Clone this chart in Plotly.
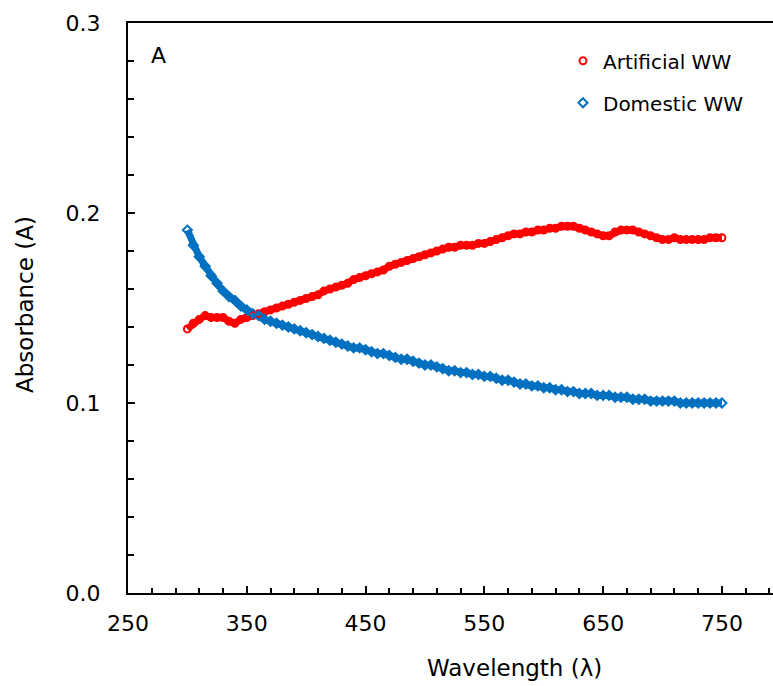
import plotly.graph_objects as go

wavelength = [300, 305, 310, 315, 320, 325, 330, 335, 340, 345,
              350, 355, 360, 365, 370, 375, 380, 385, 390, 395,
              400, 405, 410, 415, 420, 425, 430, 435, 440, 445,
              450, 455, 460, 465, 470, 475, 480, 485, 490, 495,
              500, 505, 510, 515, 520, 525, 530, 535, 540, 545,
              550, 555, 560, 565, 570, 575, 580, 585, 590, 595,
              600, 605, 610, 615, 620, 625, 630, 635, 640, 645,
              650, 655, 660, 665, 670, 675, 680, 685, 690, 695,
              700, 705, 710, 715, 720, 725, 730, 735, 740, 745, 750]

artificial_ww = [0.139, 0.142, 0.144, 0.146, 0.145, 0.145, 0.145, 0.143, 0.142, 0.144,
                 0.145, 0.146, 0.147, 0.148, 0.149, 0.150, 0.151, 0.152, 0.153, 0.154,
                 0.155, 0.156, 0.157, 0.159, 0.160, 0.161, 0.162, 0.163, 0.165, 0.166,
                 0.167, 0.168, 0.169, 0.170, 0.172, 0.173, 0.174, 0.175, 0.176, 0.177,
                 0.178, 0.179, 0.180, 0.181, 0.182, 0.182, 0.183, 0.183, 0.183, 0.184,
                 0.184, 0.185, 0.186, 0.187, 0.188, 0.189, 0.189, 0.190, 0.190, 0.191,
                 0.191, 0.192, 0.192, 0.193, 0.193, 0.193, 0.192, 0.191, 0.190, 0.189,
                 0.188, 0.188, 0.190, 0.191, 0.191, 0.191, 0.190, 0.189, 0.188, 0.187,
                 0.186, 0.186, 0.187, 0.186, 0.186, 0.186, 0.186, 0.186, 0.187, 0.187, 0.187]

domestic_ww = [0.191, 0.183, 0.177, 0.172, 0.167, 0.163, 0.159, 0.156, 0.154, 0.151,
               0.149, 0.147, 0.146, 0.144, 0.143, 0.142, 0.141, 0.140, 0.139, 0.138,
               0.137, 0.136, 0.135, 0.134, 0.133, 0.132, 0.131, 0.130, 0.129, 0.129,
               0.128, 0.127, 0.126, 0.126, 0.125, 0.124, 0.123, 0.123, 0.122, 0.121,
               0.120, 0.120, 0.119, 0.118, 0.117, 0.117, 0.116, 0.116, 0.115, 0.115,
               0.114, 0.114, 0.113, 0.112, 0.112, 0.111, 0.110, 0.110, 0.109, 0.109,
               0.108, 0.108, 0.107, 0.107, 0.106, 0.106, 0.105, 0.105, 0.105, 0.104,
               0.104, 0.104, 0.103, 0.103, 0.103, 0.102, 0.102, 0.102, 0.101, 0.101,
               0.101, 0.101, 0.101, 0.100, 0.100, 0.100, 0.100, 0.100, 0.100, 0.100, 0.100]

FONT = "DejaVu Sans, Liberation Sans, Arial, sans-serif"
RED = "#FF0000"
BLUE = "#0070C0"

fig = go.Figure()
# dense band of overlapping markers (line underlay reproduces the packed-marker look)
fig.add_trace(go.Scatter(x=wavelength, y=artificial_ww, mode="lines", showlegend=False,
                         hoverinfo="skip", line=dict(color=RED, width=7)))
fig.add_trace(go.Scatter(x=wavelength, y=domestic_ww, mode="lines", showlegend=False,
                         hoverinfo="skip", line=dict(color=BLUE, width=7)))
fig.add_trace(go.Scatter(
    x=wavelength, y=artificial_ww, mode="markers", name="Artificial WW",
    legendgroup="a",
    marker=dict(symbol="circle-open", size=7, color=RED, line=dict(width=2, color=RED)),
))
fig.add_trace(go.Scatter(
    x=wavelength, y=domestic_ww, mode="markers", name="Domestic WW",
    legendgroup="b",
    marker=dict(symbol="diamond-open", size=7, color=BLUE, line=dict(width=2, color=BLUE)),
))

fig.update_layout(
    width=773, height=686,
    margin=dict(l=128, r=0, t=23, b=93),
    plot_bgcolor="white", paper_bgcolor="white",
    font=dict(family=FONT, size=22, color="#000000"),
    showlegend=True,
    legend=dict(x=0.6744, y=0.968, xanchor="left", yanchor="top",
                bgcolor="rgba(0,0,0,0)", font=dict(size=20, family=FONT, color="#000000"),
                tracegroupgap=13, itemwidth=30),
    xaxis=dict(range=[250, 793], tick0=250, dtick=100, ticks="inside", ticklen=7,
               tickwidth=2, tickcolor="black", showline=True, linecolor="black",
               linewidth=2, mirror=True, showgrid=False, zeroline=False,
               ticklabelstandoff=10,
               tickfont=dict(size=22, family=FONT),
               minor=dict(dtick=20, tick0=250, ticks="inside", ticklen=5, tickwidth=2,
                          tickcolor="black", showgrid=False)),
    yaxis=dict(range=[0, 0.3], tick0=0, dtick=0.1, tickformat=".1f", ticks="inside",
               ticklen=7, tickwidth=2, tickcolor="black", showline=True,
               linecolor="black", linewidth=2, showgrid=False, zeroline=False,
               ticklabelstandoff=21,
               tickfont=dict(size=22, family=FONT),
               minor=dict(dtick=0.02, ticks="inside", ticklen=6, tickwidth=2,
                          tickcolor="black", showgrid=False)),
    annotations=[
        dict(text="A", x=158, y=56, xref="paper", yref="paper", showarrow=False,
             font=dict(size=22, family=FONT)),
        dict(text="Wavelength (λ)", x=514, y=668, xref="paper", yref="paper",
             showarrow=False, font=dict(size=23, family=FONT)),
        dict(text="Absorbance (A)", x=25, y=304, xref="paper", yref="paper",
             showarrow=False, textangle=-90, font=dict(size=23, family=FONT)),
    ],
)

# convert pixel-based annotation positions to paper fractions
pw, ph = 773 - 128 - 0, 686 - 23 - 93
for ann in fig.layout.annotations:
    px_, py_ = ann.x, ann.y
    ann.x = (px_ - 128) / pw
    ann.y = (686 - 93 - py_) / ph
    ann.xanchor = "center"
    ann.yanchor = "middle"

fig.write_html("out.html")
